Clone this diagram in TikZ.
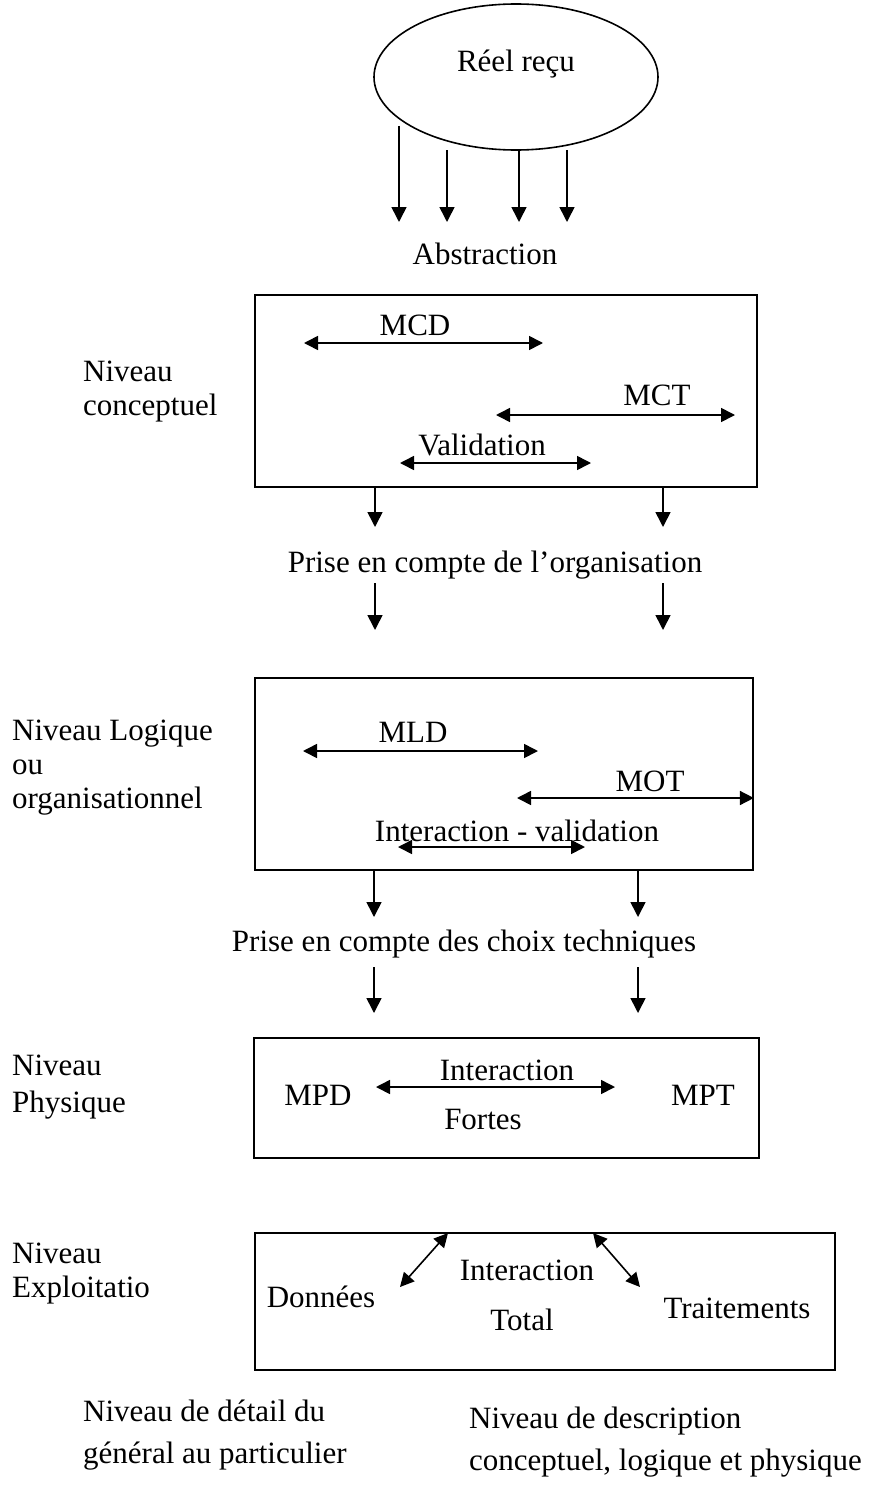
\documentclass[tikz,border=0pt]{standalone}
\usepackage{fontspec}
\setmainfont{Liberation Serif}
\usetikzlibrary{arrows.meta,shapes.geometric}
\newcommand{\gros}{\fontsize{31}{34}\selectfont}
\newcommand{\grosb}{\fontsize{31}{42}\selectfont}
\tikzset{
	boite/.style={draw,line width=1.8pt,inner sep=0pt},
	fl/.style={line width=1.6pt,-{Triangle[length=15pt,width=15pt]}},
	dfl/.style={line width=1.6pt,{Triangle[length=14pt,width=14pt]}-{Triangle[length=14pt,width=14pt]}},
	txt/.style={font=\gros,inner sep=0pt}
}
\begin{document}
\begin{tikzpicture}[x=1pt,y=-1pt]
	\useasboundingbox (0,0) rectangle (874,1501);
	% reel recu
	\node[draw,ellipse,line width=1.6pt,minimum width=284pt,minimum height=146pt] (reel) at (516,77) {};
	\node[txt] (reeltxt) at (516,64) {Réel reçu};
	\foreach \x/\y in {399/126,447/150,519/150,567/150}
		\draw[fl] (\x,\y) -- (\x,222);
	\node[txt] (abs) at (485,254) {Abstraction};
	% niveau conceptuel
	\node[boite,minimum width=502pt,minimum height=192pt] (box1) at (506,391) {};
	\node[txt,anchor=west,align=left] (conc) at (83,392) {Niveau\\conceptuel};
	\coordinate (mcdL) at (304,343); \coordinate (mcdR) at (543,343);
	\coordinate (mctL) at (496,415); \coordinate (mctR) at (735,415);
	\coordinate (valL) at (400,463); \coordinate (valR) at (591,463);
	\draw[dfl] (mcdL) -- (mcdR);
	\draw[dfl] (mctL) -- (mctR);
	\draw[dfl] (valL) -- (valR);
	\node[txt] (mcd) at (415,325) {MCD};
	\node[txt] (mct) at (657,395) {MCT};
	\node[txt] (val) at (482,445) {Validation};
	\draw[fl] (box1.south -| 375,0) -- (375,527);
	\draw[fl] (box1.south -| 663,0) -- (663,527);
	\node[txt] (orga) at (495,565) {Prise en compte de l’organisation};
	\draw[fl] (375,583) -- (375,630);
	\draw[fl] (663,583) -- (663,630);
	% niveau logique
	\node[boite,minimum width=498pt,minimum height=192pt] (box2) at (504,774) {};
	\node[txt,anchor=west,align=left] (logi) at (12,768) {Niveau Logique\\ou\\organisationnel};
	\coordinate (mldL) at (303,751); \coordinate (mldR) at (538,751);
	\coordinate (motL) at (517,798); \coordinate (motR) at (box2.east |- 0,798);
	\coordinate (intL) at (398,847); \coordinate (intR) at (585,847);
	\draw[dfl] (mldL) -- (mldR);
	\draw[dfl] (motL) -- (motR);
	\draw[dfl] (intL) -- (intR);
	\node[txt] (mld) at (413,732) {MLD};
	\node[txt] (mot) at (650,781) {MOT};
	\node[txt] (intv) at (517,831) {Interaction - validation};
	\draw[fl] (box2.south -| 374,0) -- (374,917);
	\draw[fl] (box2.south -| 638,0) -- (638,917);
	\node[txt] (tech) at (464,944) {Prise en compte des choix techniques};
	\draw[fl] (374,967) -- (374,1013);
	\draw[fl] (638,967) -- (638,1013);
	% niveau physique
	\node[boite,minimum width=505pt,minimum height=120pt] (box3) at (506.5,1098) {};
	\node[txt,anchor=west,align=left,font=\fontsize{31}{37}\selectfont] (phys) at (12,1087) {Niveau\\Physique};
	\node[txt] (mpd) at (318,1095) {MPD};
	\node[txt] (mpt) at (703,1095) {MPT};
	\coordinate (phL) at (376,1087); \coordinate (phR) at (615,1087);
	\draw[dfl] (phL) -- (phR);
	\node[txt] (inter3) at (507,1070) {Interaction};
	\node[txt] (fortes) at (483,1119) {Fortes};
	% niveau exploitation
	\node[boite,minimum width=580pt,minimum height=137pt] (box4) at (545,1301.5) {};
	\node[txt,anchor=west,align=left] (expl) at (12,1274) {Niveau\\Exploitatio};
	\node[txt] (donnees) at (321,1297) {Données};
	\node[txt] (inter4) at (527,1270) {Interaction};
	\node[txt] (total) at (522,1320) {Total};
	\node[txt] (trait) at (737,1308) {Traitements};
	\coordinate (d1) at (400,1287); \coordinate (d2) at (448,1233);
	\coordinate (t1) at (593,1233); \coordinate (t2) at (640,1287);
	\draw[dfl] (d1) -- (d2);
	\draw[dfl] (t1) -- (t2);
	% bas
	\node[txt,anchor=west,align=left,font=\grosb] (detail) at (83,1435) {Niveau de détail du\\général au particulier};
	\node[txt,anchor=west,align=left,font=\grosb] (descr) at (469,1442) {Niveau de description\\conceptuel, logique et physique};
\end{tikzpicture}
\end{document}
